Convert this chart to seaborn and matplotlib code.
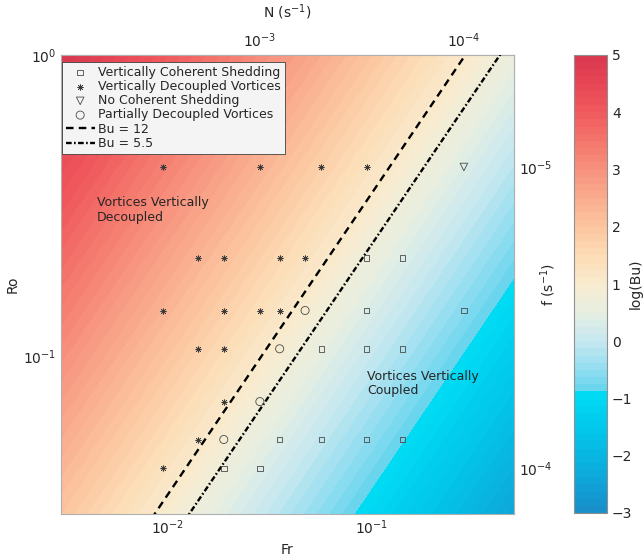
import numpy as np
import matplotlib
matplotlib.use("Agg")
import matplotlib.pyplot as plt
import seaborn as sns
from matplotlib.colors import LinearSegmentedColormap
from matplotlib.ticker import NullFormatter

sns.set_style("white")
plt.rcParams["font.family"] = ["DejaVu Sans"]
plt.rcParams["text.color"] = "#262626"
plt.rcParams["axes.labelcolor"] = "#262626"
plt.rcParams["xtick.color"] = "#262626"
plt.rcParams["ytick.color"] = "#262626"

# ---------------- data ----------------
coherent_fr = [0.0947, 0.142, 0.0947, 0.284, 0.0568, 0.0947, 0.142,
               0.0355, 0.0568, 0.0947, 0.142, 0.0189, 0.0284]
coherent_ro = [0.2125, 0.2125, 0.142, 0.142, 0.106, 0.106, 0.106,
               0.053, 0.053, 0.053, 0.053, 0.0425, 0.0425]

decoupled_fr = [0.0095, 0.0284, 0.0568, 0.0947,
                0.0142, 0.0189, 0.0355, 0.0473,
                0.0095, 0.0189, 0.0284, 0.0355,
                0.0142, 0.0189, 0.0189, 0.0142, 0.0095]
decoupled_ro = [0.425, 0.425, 0.425, 0.425,
                0.2125, 0.2125, 0.2125, 0.2125,
                0.142, 0.142, 0.142, 0.142,
                0.106, 0.106, 0.0708, 0.053, 0.0425]

noshed_fr = [0.284]
noshed_ro = [0.425]

partial_fr = [0.0473, 0.0355, 0.0284, 0.0189]
partial_ro = [0.142, 0.106, 0.0708, 0.053]

bu_values = [12, 5.5]
bu_labels = ["Bu = 12", "Bu = 5.5"]
line_fr = [0.003, 0.5]

fr_lim = [0.003, 0.5]
ro_lim = [0.03, 1.0]
N_PER_FR = 2.84e-5   # N = N_PER_FR / Fr
F_PER_RO = 4.25e-6   # f = F_PER_RO / Ro
cbar_ticks = [-3, -2, -1, 0, 1, 2, 3, 4, 5]

# ---------------- colormap ----------------
stops = [(-3, "#1a8cc8"), (-2.5, "#10a2d8"), (-2, "#08b6e2"), (-1.5, "#02c8ec"),
         (-0.88, "#00dcf4"), (-0.87, "#64d4ee"), (-0.5, "#90dcf0"), (0, "#c6e8f0"),
         (0.5, "#e6eee2"), (1, "#f9ecd0"), (1.5, "#fcdcb6"), (2, "#fcc6a0"),
         (2.5, "#f9ac8e"), (3, "#f7927e"), (3.5, "#f4766c"), (4, "#f05a5e"),
         (4.5, "#e84656"), (5, "#d8384e")]
cmap = LinearSegmentedColormap.from_list("bu", [((v + 3) / 8, c) for v, c in stops], N=512)

fig = plt.figure(figsize=(6.44, 5.6), dpi=100)
ax = fig.add_axes([60.7 / 644, 1 - 514 / 560, 453.3 / 644, 459 / 560])
cax = fig.add_axes([574 / 644, 1 - 513 / 560, 33 / 644, 458 / 560])

# background field log10(Bu), Bu = (Ro/Fr)^2
gfr = np.logspace(np.log10(fr_lim[0]), np.log10(fr_lim[1]), 400)
gro = np.logspace(np.log10(ro_lim[0]), np.log10(ro_lim[1]), 400)
FR, RO = np.meshgrid(gfr, gro)
Z = np.clip(2 * np.log10(RO / FR), -3, 4.999)
levels = np.linspace(-3, 5, 65)
cf = ax.contourf(FR, RO, Z, levels=levels, cmap=cmap, vmin=-3, vmax=5)

ax.set_xscale("log")
ax.set_yscale("log")

mk = "#4a4a4a"
sns.scatterplot(x=coherent_fr, y=coherent_ro, marker="s", s=16, facecolor="none",
                edgecolor=mk, linewidth=0.6, ax=ax, label="Vertically Coherent Shedding", zorder=5)
sns.scatterplot(x=decoupled_fr, y=decoupled_ro, marker=(8, 2, 0), s=16, color="#3a3a3a",
                linewidth=0.5, ax=ax, label="Vertically Decoupled Vortices", zorder=5)
sns.scatterplot(x=noshed_fr, y=noshed_ro, marker="v", s=30, facecolor="none",
                edgecolor=mk, linewidth=0.6, ax=ax, label="No Coherent Shedding", zorder=5)
sns.scatterplot(x=partial_fr, y=partial_ro, marker="o", s=34, facecolor="none",
                edgecolor=mk, linewidth=0.6, ax=ax, label="Partially Decoupled Vortices", zorder=5)

styles = [(0, (3.2, 2.2)), (0, (2.4, 1.0, 0.7, 1.0))]
for bu, lab, ls in zip(bu_values, bu_labels, styles):
    xs = np.array(line_fr)
    sns.lineplot(x=xs, y=np.sqrt(bu) * xs, color="black", linewidth=1.7, linestyle=ls,
                 ax=ax, label=lab, estimator=None, zorder=4)

ax.set_xlim(fr_lim)
ax.set_ylim(ro_lim)
ax.set_xlabel("Fr", fontsize=10, labelpad=4)
ax.set_ylabel("Ro", fontsize=10, labelpad=2)
ax.tick_params(which="both", direction="in", top=False, right=False, labelsize=10)
ax.tick_params(which="major", length=4, width=0.6)
ax.tick_params(which="minor", length=2.5, width=0.5)
ax.xaxis.set_minor_formatter(NullFormatter())
ax.yaxis.set_minor_formatter(NullFormatter())
for sp in ax.spines.values():
    sp.set_color("#b0b0b0")
    sp.set_linewidth(0.8)


def n_from_fr(x):
    x = np.asarray(x, dtype=float)
    with np.errstate(divide="ignore", invalid="ignore"):
        return N_PER_FR / x


def f_from_ro(y):
    y = np.asarray(y, dtype=float)
    with np.errstate(divide="ignore", invalid="ignore"):
        return F_PER_RO / y


secx = ax.secondary_xaxis("top", functions=(n_from_fr, n_from_fr))
secx.set_xlabel("N (s$^{-1}$)", fontsize=10, labelpad=10)
secx.tick_params(which="both", direction="in", labelsize=10)
secx.tick_params(which="major", length=4, width=0.6)
secx.tick_params(which="minor", length=2.5, width=0.5)
secx.xaxis.set_minor_formatter(NullFormatter())

secy = ax.secondary_yaxis("right", functions=(f_from_ro, f_from_ro))
secy.set_ylabel("f (s$^{-1}$)", fontsize=10, labelpad=-10)
secy.tick_params(which="both", direction="in", labelsize=10)
secy.tick_params(which="major", length=4, width=0.6)
secy.tick_params(which="minor", length=2.5, width=0.5)
secy.yaxis.set_minor_formatter(NullFormatter())
for s in (secx, secy):
    for sp in s.spines.values():
        sp.set_color("#b0b0b0")
        sp.set_linewidth(0.8)

ax.text(0.080, 0.692, "Vortices Vertically\nDecoupled", transform=ax.transAxes,
        fontsize=9, va="top", ha="left", linespacing=1.15)
ax.text(0.676, 0.314, "Vortices Vertically\nCoupled", transform=ax.transAxes,
        fontsize=9, va="top", ha="left", linespacing=1.15)

leg = ax.legend(loc="upper left", bbox_to_anchor=(0.003, 0.985), borderaxespad=0,
                fontsize=9, labelspacing=0.1, borderpad=0.3, handlelength=2.3,
                handletextpad=0.3, fancybox=False, framealpha=1, facecolor="#f4f4f4",
                edgecolor="#404040")
leg.get_frame().set_linewidth(0.6)

cb = fig.colorbar(cf, cax=cax, ticks=cbar_ticks)
cb.ax.tick_params(direction="in", labelsize=10, length=4, width=0.6)
cb.set_label("log(Bu)", fontsize=10)
cb.ax.yaxis.set_label_coords((629 - 574) / 33, 0.5)
cb.outline.set_edgecolor("#909090")
cb.outline.set_linewidth(0.8)

fig.savefig("out.png", dpi=100)
